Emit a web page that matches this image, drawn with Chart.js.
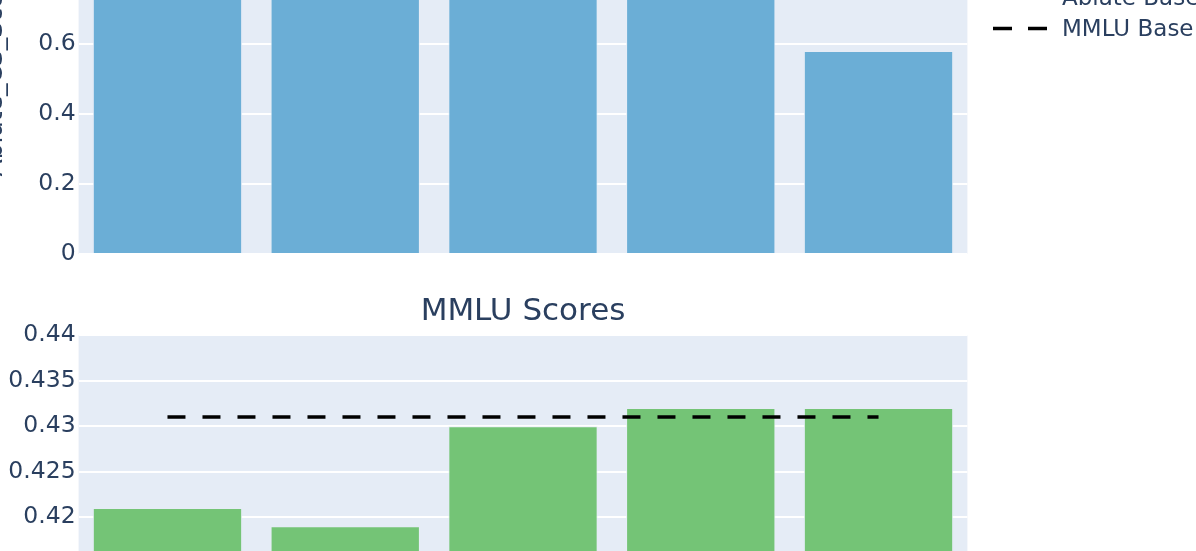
<!DOCTYPE html>
<html><head><meta charset="utf-8">
<script src="https://cdn.jsdelivr.net/npm/chart.js@4.4.0/dist/chart.umd.min.js"></script>
<style>
html,body{margin:0;padding:0;width:1196px;height:551px;overflow:hidden;background:#fff;position:relative}
#c1{position:absolute;left:-24px;top:-130px}
#c2{position:absolute;left:-24px;top:284px}
</style></head><body>
<canvas id="c1" width="1220" height="404"></canvas>
<canvas id="c2" width="1220" height="435"></canvas>
<script>
const categories = ['Model 1', 'Model 2', 'Model 3', 'Model 4', 'Model 5'];
const ablateScores = [0.98, 0.97, 0.99, 0.98, 0.58];
const ablateBase = 0.97;
const mmluScores = [0.421, 0.419, 0.430, 0.432, 0.432];
const mmluBase = 0.431;
const ablateTicks = [0, 0.2, 0.4, 0.6, 0.8, 1];
const mmluTicks = [0.40, 0.405, 0.41, 0.415, 0.42, 0.425, 0.43, 0.435, 0.44];
const legendLabels = ['Ablate Base', 'MMLU Base'];
const ablateAxisTitle = 'Ablate_CS_Score';
const mmluTitle = 'MMLU Scores';

Chart.defaults.font.family = '"DejaVu Sans", Verdana, sans-serif';
Chart.defaults.color = '#2a3f5f';

const plotBg = {
  id: 'plotBg',
  beforeDraw(chart) {
    const { ctx, chartArea: a } = chart;
    ctx.save();
    ctx.fillStyle = '#E5ECF6';
    ctx.fillRect(a.left, a.top, a.right - a.left, a.bottom - a.top);
    ctx.restore();
  }
};

const legendPlugin = {
  id: 'legendItems',
  afterDraw(chart) {
    const ctx = chart.ctx;
    ctx.save();
    legendLabels.forEach((lab, i) => {
      const base = 130 + 4.5 + 31 * i;
      ctx.strokeStyle = '#000';
      ctx.lineWidth = 3.5;
      ctx.setLineDash([19, 16]);
      ctx.beginPath();
      ctx.moveTo(24 + 993, base - 7);
      ctx.lineTo(24 + 1047, base - 7);
      ctx.stroke();
      ctx.setLineDash([]);
      ctx.fillStyle = '#2a3f5f';
      ctx.font = '23px "DejaVu Sans", Verdana, sans-serif';
      ctx.textBaseline = 'alphabetic';
      ctx.fillText(lab, 24 + 1062, base);
    });
    ctx.restore();
  }
};

function yScale(min, max, ticksArr, titleText) {
  return {
    min, max,
    afterFit: s => { s.width = 102.6; },
    afterBuildTicks: s => { s.ticks = ticksArr.map(v => ({ value: v })); },
    ticks: { color: '#2a3f5f', font: { size: 23.5 }, padding: 3, callback: v => String(+Number(v).toFixed(3)) },
    grid: { color: '#ffffff', lineWidth: 2, drawTicks: false },
    border: { display: false },
    title: { display: !!titleText, text: titleText || '', color: '#2a3f5f', font: { size: 25 }, padding: { top: 4, bottom: 4 } }
  };
}

function makeChart(id, values, baseVal, color, baseLabel, ymin, ymax, ticksArr, axisTitle, title, extraPlugins) {
  return new Chart(document.getElementById(id), {
    data: {
      labels: categories,
      datasets: [
        {
          type: 'line', label: baseLabel, data: categories.map(() => baseVal),
          borderColor: '#000', borderWidth: 3.5, borderDash: [18, 17], pointRadius: 0, fill: false, order: 0
        },
        {
          type: 'bar', label: title, data: values, backgroundColor: color,
          borderColor: 'rgba(229,236,246,0.9)', borderWidth: 1,
          categoryPercentage: 0.84, barPercentage: 1.0, order: 1
        }
      ]
    },
    options: {
      responsive: false, animation: false, devicePixelRatio: 1,
      layout: { padding: { top: title ? 0 : 20, bottom: 20, left: 0, right: 228.6 } },
      scales: {
        x: { type: 'category', display: false, offset: true, grid: { display: false } },
        y: yScale(ymin, ymax, ticksArr, axisTitle)
      },
      plugins: {
        legend: { display: false },
        tooltip: { enabled: false },
        title: {
          display: !!title, text: title || '', fullSize: false, color: '#2a3f5f',
          font: { size: 31, weight: 'normal' }, padding: { top: 9, bottom: 5 }
        }
      }
    },
    plugins: [plotBg].concat(extraPlugins)
  });
}

makeChart('c1', ablateScores, ablateBase, '#6baed6', legendLabels[0], 0, 1.04, ablateTicks, ablateAxisTitle, null, [legendPlugin]);
makeChart('c2', mmluScores, mmluBase, '#74c476', legendLabels[1], 0.40, 0.44, mmluTicks, null, mmluTitle, []);
</script>
</body></html>
